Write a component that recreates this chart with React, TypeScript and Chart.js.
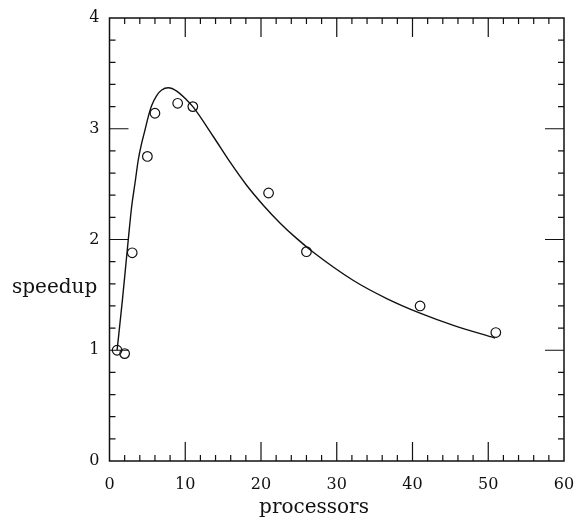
import React, { useEffect, useRef } from "react";
import { Chart, registerables } from "chart.js";

Chart.register(...registerables);

// Measured speedup (circles)
const measuredProcessors = [1, 2, 3, 5, 6, 9, 11, 21, 26, 41, 51];
const measuredSpeedup = [1.0, 0.97, 1.88, 2.75, 3.14, 3.23, 3.2, 2.42, 1.89, 1.4, 1.16];

// Model curve (solid line)
const modelProcessors = [1, 1.7, 2.48, 2.93, 3.37, 3.8, 4.25, 4.69, 5.12, 5.57, 6.23, 6.89, 7.76, 8.87, 10.19, 11.06, 13.7, 15.9, 18.1, 20.3, 22.5, 24.7, 26.9, 32.2, 36.6, 41.0, 45.4, 50.9];
const modelSpeedup = [1.0, 1.45, 2.0, 2.3, 2.51, 2.72, 2.87, 2.99, 3.11, 3.21, 3.3, 3.35, 3.37, 3.34, 3.26, 3.195, 2.93, 2.7, 2.49, 2.31, 2.15, 2.01, 1.885, 1.63, 1.467, 1.335, 1.225, 1.11];

const xTicks = [0, 10, 20, 30, 40, 50, 60];
const yTicks = [0, 1, 2, 3, 4];
const xTitle = "processors";
const yTitle = "speedup";

const FONT = "'DejaVu Serif', serif";

const framePlugin = {
  id: "frameTicks",
  afterDraw(chart: any) {
    const { ctx, chartArea, scales } = chart;
    const xs = scales.x;
    const ys = scales.y;
    const { left, right, top, bottom } = chartArea;
    ctx.save();
    ctx.strokeStyle = "#111";
    ctx.lineWidth = 1.5;
    ctx.strokeRect(left, top, right - left, bottom - top);
    ctx.lineWidth = 1.2;
    ctx.beginPath();
    for (let v = 2; v < 60; v += 2) {
      const px = xs.getPixelForValue(v);
      const len = v % 10 === 0 ? 19 : 6;
      ctx.moveTo(px, bottom);
      ctx.lineTo(px, bottom - len);
      ctx.moveTo(px, top);
      ctx.lineTo(px, top + len);
    }
    for (let i = 1; i < 20; i++) {
      const v = i * 0.2;
      const py = ys.getPixelForValue(v);
      const len = i % 5 === 0 ? 19 : 6;
      ctx.moveTo(left, py);
      ctx.lineTo(left + len, py);
      ctx.moveTo(right, py);
      ctx.lineTo(right - len, py);
    }
    ctx.stroke();

    ctx.fillStyle = "#111";
    ctx.font = `20px ${FONT}`;
    ctx.textBaseline = "alphabetic";
    ctx.textAlign = "left";
    ctx.fillText(yTitle, 12, 293);
    ctx.textAlign = "center";
    ctx.fillText(xTitle, 314, 513);
    ctx.restore();
  },
};

export default function App() {
  const canvasRef = useRef<HTMLCanvasElement | null>(null);

  useEffect(() => {
    const canvas = canvasRef.current;
    if (!canvas) return;
    const chart = new Chart(canvas, {
      type: "scatter",
      data: {
        datasets: [
          {
            label: "measured",
            data: measuredProcessors.map((x, i) => ({ x, y: measuredSpeedup[i] })),
            pointStyle: "circle",
            pointRadius: 4.8,
            pointBorderWidth: 1.2,
            pointBorderColor: "#111",
            pointBackgroundColor: "rgba(0,0,0,0)",
            showLine: false,
            order: 0,
          },
          {
            label: "model",
            data: modelProcessors.map((x, i) => ({ x, y: modelSpeedup[i] })),
            showLine: true,
            borderColor: "#111",
            borderWidth: 1.4,
            pointRadius: 0,
            cubicInterpolationMode: "monotone",
            order: 1,
          },
        ],
      },
      options: {
        responsive: false,
        animation: false,
        layout: { padding: { left: 0, top: 18, right: 15, bottom: 0 } },
        plugins: { legend: { display: false }, tooltip: { enabled: false } },
        scales: {
          x: {
            type: "linear",
            min: 0,
            max: 60,
            afterBuildTicks: (scale: any) => {
              scale.ticks = xTicks.map((v) => ({ value: v }));
            },
            afterFit: (scale: any) => {
              scale.height = 62;
              scale.paddingLeft = 0;
              scale.paddingRight = 0;
            },
            grid: { display: false, drawTicks: false },
            border: { display: false },
            ticks: {
              color: "#111",
              font: { family: FONT, size: 16 },
              padding: 14,
              maxRotation: 0,
            },
          },
          y: {
            type: "linear",
            min: 0,
            max: 4,
            afterBuildTicks: (scale: any) => {
              scale.ticks = yTicks.map((v) => ({ value: v }));
            },
            afterFit: (scale: any) => {
              scale.width = 109.5;
              scale.paddingTop = 0;
              scale.paddingBottom = 0;
            },
            grid: { display: false, drawTicks: false },
            border: { display: false },
            ticks: {
              color: "#111",
              font: { family: FONT, size: 16 },
              padding: 10,
            },
          },
        },
      },
      plugins: [framePlugin],
    });
    return () => chart.destroy();
  }, []);

  return (
    <div style={{ position: "absolute", left: 0, top: 0, width: 579, height: 523, background: "#fff" }}>
      <canvas ref={canvasRef} width={579} height={523} style={{ display: "block" }} />
    </div>
  );
}
